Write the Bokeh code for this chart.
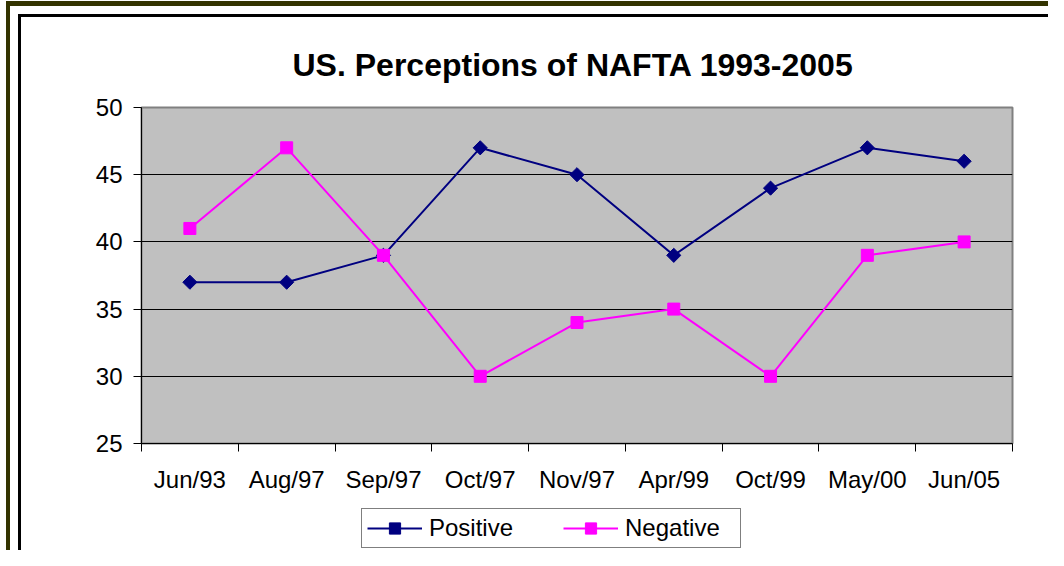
from bokeh.plotting import figure
from bokeh.layouts import column
from bokeh.models import Range1d, FixedTicker, Legend, LegendItem
from bokeh.embed import file_html
from bokeh.resources import INLINE
import math

# ---- data ----
categories = ["Jun/93", "Aug/97", "Sep/97", "Oct/97", "Nov/97", "Apr/99", "Oct/99", "May/00", "Jun/05"]
positive = [37, 37, 39, 47, 45, 39, 44, 47, 46]
negative = [41, 47, 39, 30, 34, 35, 30, 39, 40]
y_ticks = [25, 30, 35, 40, 45, 50]
series_names = ["Positive", "Negative"]
title_text = "US. Perceptions of NAFTA 1993-2005"

n = len(categories)
xs = [i + 0.5 for i in range(n)]
bounds = list(range(n + 1))

FONT = "Liberation Sans"
POS_C = "#000080"
NEG_C = "#FF00FF"

# chart-area frame (olive outer rule on top/left, black inner rule)
frame_bg = ("linear-gradient(#333300,#333300) 6px 1px / 4px 549px no-repeat, "
            "linear-gradient(#333300,#333300) 6px 1px / 1042px 5px no-repeat, "
            "linear-gradient(#000,#000) 18px 14px / 3px 536px no-repeat, "
            "linear-gradient(#000,#000) 18px 14px / 1030px 3px no-repeat, white")

p = figure(width=1048, height=495, output_backend="svg", toolbar_location=None,
           x_range=Range1d(0, n), y_range=Range1d(y_ticks[0], y_ticks[-1]),
           min_border_left=141, min_border_right=36, min_border_top=107, min_border_bottom=50)

p.background_fill_color = "#C0C0C0"
p.border_fill_alpha = 0
p.outline_line_color = "#808080"
p.outline_line_width = 2

# title
p.title.text = title_text
p.title.align = "left"
p.title.offset = 151
p.title.text_font = FONT
p.title.text_font_style = "bold"
p.title.text_font_size = "32px"
p.title.text_color = "black"
p.title.standoff = 50

# y axis
p.yaxis.ticker = FixedTicker(ticks=y_ticks)
p.yaxis.major_tick_out = 8
p.yaxis.major_tick_in = 0
p.yaxis.minor_tick_line_color = None
p.yaxis.axis_line_color = "black"
p.yaxis.major_tick_line_color = "black"
p.yaxis.major_label_text_font = FONT
p.yaxis.major_label_text_font_size = "24px"
p.yaxis.major_label_text_color = "black"
p.yaxis.major_label_standoff = 11

# x axis: labels at category centres, tick marks at category boundaries
p.xaxis.ticker = FixedTicker(ticks=xs, minor_ticks=bounds)
p.xaxis.major_label_overrides = {x: c for x, c in zip(xs, categories)}
p.xaxis.major_tick_out = 0
p.xaxis.major_tick_in = 0
p.xaxis.minor_tick_out = 8
p.xaxis.minor_tick_in = 0
p.xaxis.minor_tick_line_color = "black"
p.xaxis.axis_line_color = "black"
p.xaxis.major_label_text_font = FONT
p.xaxis.major_label_text_font_size = "24px"
p.xaxis.major_label_text_color = "black"
p.xaxis.major_label_standoff = 14

p.xgrid.visible = False
p.ygrid.ticker = FixedTicker(ticks=y_ticks)
p.ygrid.grid_line_color = "black"
p.ygrid.grid_line_width = 1

# series
p.line(xs, positive, line_color=POS_C, line_width=2)
p.scatter(xs, positive, marker="square", angle=math.pi / 4, size=10,
          fill_color=POS_C, line_color=POS_C)
p.line(xs, negative, line_color=NEG_C, line_width=2)
p.scatter(xs, negative, marker="square", size=12,
          fill_color=NEG_C, line_color=NEG_C)

# legend strip below the chart (its frame is aligned with the chart's frame)
q = figure(width=1048, height=55, output_backend="svg", toolbar_location=None,
           x_range=Range1d(0, 1), y_range=Range1d(0, 1),
           x_axis_location=None, y_axis_location=None,
           min_border_left=0, min_border_right=0, min_border_top=0, min_border_bottom=0)
q.grid.visible = False
q.outline_line_color = None
q.background_fill_alpha = 0
q.border_fill_alpha = 0
# legend proxies: same series, lying outside this strip's visible range
lp = q.line(xs, positive, line_color=POS_C, line_width=2)
sp = q.scatter(xs, positive, marker="square", angle=math.pi / 4, size=10,
               fill_color=POS_C, line_color=POS_C)
ln = q.line(xs, negative, line_color=NEG_C, line_width=2)
sn = q.scatter(xs, negative, marker="square", size=12, fill_color=NEG_C, line_color=NEG_C)

legend = Legend(items=[LegendItem(label=series_names[0], renderers=[lp, sp]),
                       LegendItem(label=series_names[1], renderers=[ln, sn])],
                orientation="horizontal", location=(220, 2),
                padding=5, margin=0, spacing=24, label_standoff=7,
                glyph_width=55, glyph_height=28, label_width=110,
                label_text_font=FONT, label_text_font_size="24px",
                label_text_color="black",
                background_fill_color="white", background_fill_alpha=1,
                border_line_color="black", border_line_width=1)
q.add_layout(legend, "center")

layout = column(p, q, styles={"background": frame_bg})

open("out.html", "w").write(file_html(layout, INLINE))
